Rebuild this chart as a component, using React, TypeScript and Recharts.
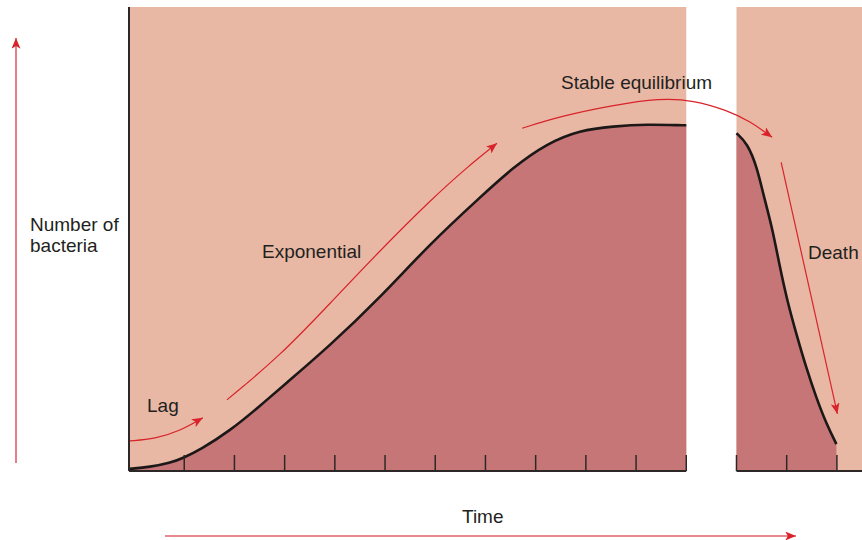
import { ComposedChart, Area, Line, XAxis, YAxis, ReferenceArea, ReferenceLine } from "recharts";

// time in tick units, bacteria as % of the plot height
const time = [
  -0.1, 0.32, 0.72, 0.98, 1.31, 1.91, 2.51, 2.97, 3.9, 4.9, 5.9, 6.89, 7.55, 8.23, 8.88, 9.54, 10.22, 10.92, 11.0,
  11.5,
  12.0, 12.22, 12.41, 12.53, 12.71, 12.85, 13.01, 13.19, 13.39, 13.59, 13.79, 13.99,
];
const bacteria = [
  0.45, 0.86, 1.73, 2.81, 4.54, 8.64, 14.04, 18.36, 27.0, 37.37, 49.03, 58.96, 65.44, 70.63, 73.43, 74.3, 74.73, 74.5, 74.5,
  null,
  72.8, 70.6, 65.4, 59.8, 52.5, 44.7, 36.7, 29.6, 22.2, 15.8, 10.2, 5.8,
];
const timeTicks = [1, 2, 3, 4, 5, 6, 7, 8, 9, 10, 11, 12, 13, 14];

// phase arrows (time, level)
const lagT = [-0.08, 0.42, 0.92, 1.37];
const lagV = [6.48, 6.91, 8.64, 11.45];
const expT = [1.85, 2.91, 3.9, 4.9, 5.9, 6.63, 7.23];
const expV = [15.33, 24.84, 36.07, 47.52, 58.32, 65.44, 70.63];
const stableT = [7.73, 8.49, 9.54, 10.48, 11.14, 11.81, 12.27, 12.71];
const stableV = [73.87, 76.46, 78.83, 80.35, 79.91, 77.75, 75.38, 71.92];
const deathT = [12.89, 14.01];
const deathV = [66.52, 12.31];

const growth = time.map((t, i) => ({ t, v: bacteria[i] }));
const toPts = (ts: number[], vs: number[]) => ts.map((t, i) => ({ t, v: vs[i] }));
const arrows = [
  toPts(lagT, lagV),
  toPts(expT, expV),
  toPts(stableT, stableV),
  toPts(deathT, deathV),
];

const RED = "#d8232a";
const DARK = "#2e2727";
const font = { fontFamily: "'Liberation Sans', Arial, sans-serif", fontSize: 19, fill: "#231f20" };

export default function App() {
  return (
    <div style={{ position: "absolute", left: 0, top: 0, width: 862, height: 540, background: "#fff" }}>
      <svg width={0} height={0} style={{ position: "absolute" }}>
        <defs>
          <marker
            id="head"
            viewBox="0 0 12 10"
            refX="12"
            refY="5"
            markerWidth="12"
            markerHeight="9"
            markerUnits="userSpaceOnUse"
            orient="auto"
          >
            <path d="M0,0 L12,5 L0,10 L3,5 z" fill={RED} />
          </marker>
        </defs>
      </svg>

      <ComposedChart width={862} height={540} data={growth} margin={{ top: 7, right: 0, bottom: 69, left: 128 }}>
        <XAxis
          type="number"
          dataKey="t"
          domain={[-0.1, 14.5]}
          allowDataOverflow
          ticks={timeTicks}
          axisLine={false}
          tickLine={{ stroke: DARK, strokeWidth: 1.5 }}
          tickSize={16}
          mirror
          height={1}
          tick={() => <g />}
        />
        <YAxis
          type="number"
          domain={[0, 100]}
          width={1}
          tick={false}
          tickLine={false}
          axisLine={{ stroke: DARK, strokeWidth: 2 }}
        />
        <ReferenceArea x1={-0.1} x2={11} y1={0} y2={100} fill="#e8b8a4" fillOpacity={1} stroke="none" zIndex={-50} />
        <ReferenceArea x1={12} x2={14.5} y1={0} y2={100} fill="#e8b8a4" fillOpacity={1} stroke="none" zIndex={-50} />
        <Area
          type="basis"
          dataKey="v"
          stroke="#1c1818"
          strokeWidth={2.6}
          fill="#c77677"
          fillOpacity={1}
          dot={false}
          activeDot={false}
          isAnimationActive={false}
        />
        <ReferenceLine segment={[{ x: -0.1, y: 0 }, { x: 11, y: 0 }]} stroke={DARK} strokeWidth={2} />
        <ReferenceLine segment={[{ x: 12, y: 0 }, { x: 14.5, y: 0 }]} stroke={DARK} strokeWidth={2} />
        {arrows.map((pts, i) => (
          <Line
            key={i}
            data={pts}
            dataKey="v"
            type="basis"
            stroke={RED}
            strokeWidth={1.2}
            dot={false}
            activeDot={false}
            markerEnd="url(#head)"
            isAnimationActive={false}
          />
        ))}
      </ComposedChart>

      <svg width={862} height={540} style={{ position: "absolute", left: 0, top: 0, pointerEvents: "none" }}>
        <line x1={16} y1={463} x2={16} y2={38} stroke="#e0606a" strokeWidth={1.6} markerEnd="url(#head)" />
        <line x1={165} y1={536} x2={796} y2={536} stroke="#e0606a" strokeWidth={1.6} markerEnd="url(#head)" />
        <text x={30} y={231} {...font}>Number of</text>
        <text x={30} y={252} {...font}>bacteria</text>
        <text x={147} y={412} {...font}>Lag</text>
        <text x={262} y={258} {...font}>Exponential</text>
        <text x={561} y={89} {...font}>Stable equilibrium</text>
        <text x={808} y={259} {...font}>Death</text>
        <text x={462} y={523} {...font}>Time</text>
      </svg>
    </div>
  );
}
